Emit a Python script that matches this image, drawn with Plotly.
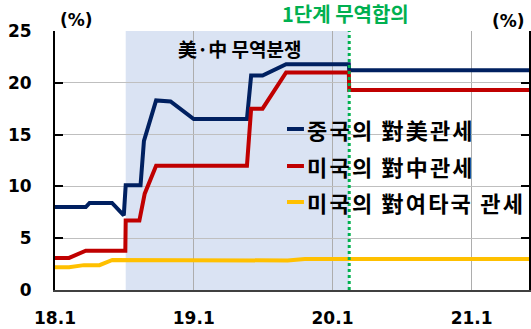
import plotly.graph_objects as go

# ---- data -------------------------------------------------------------
# China's tariffs on US goods (%)
cn_dates = ["2018-01-01", "2018-03-23", "2018-04-02", "2018-05-31", "2018-07-01",
            "2018-07-06", "2018-08-14", "2018-08-23", "2018-09-24", "2018-11-01",
            "2019-01-01", "2019-05-21", "2019-06-01", "2019-07-01", "2019-09-01",
            "2020-02-13", "2020-02-14", "2021-06-01"]
cn_on_us = [8.0, 8.0, 8.4, 8.4, 7.2,
            10.1, 10.1, 14.4, 18.3, 18.2,
            16.5, 16.5, 20.7, 20.7, 21.8,
            21.8, 21.2, 21.2]

# US tariffs on Chinese goods (%)
us_dates = ["2018-01-01", "2018-02-07", "2018-03-23", "2018-07-05", "2018-07-06",
            "2018-08-11", "2018-08-25", "2018-09-24", "2019-05-21", "2019-06-01",
            "2019-07-01", "2019-09-01", "2020-02-13", "2020-02-14", "2021-06-01"]
us_on_cn = [3.1, 3.1, 3.8, 3.8, 6.7,
            6.7, 9.3, 12.0, 12.0, 17.5,
            17.5, 21.0, 21.0, 19.3, 19.3]

# US tariffs on the rest of the world (%)
row_dates = ["2018-01-01", "2018-02-07", "2018-03-18", "2018-04-28", "2018-06-01",
             "2019-05-21", "2019-06-01", "2019-09-05", "2019-10-20", "2020-12-20",
             "2021-01-25", "2021-03-05", "2021-06-01"]
us_on_row = [2.2, 2.2, 2.4, 2.4, 2.9,
             2.9, 2.85, 2.85, 3.0, 3.0,
             3.05, 3.0, 3.0]

series_names = ["중국의 對美관세", "미국의 對中관세", "미국의 對여타국 관세"]
series_colors = ["#002060", "#C00000", "#FFC000"]

tick_dates = ["2018-01-01", "2019-01-01", "2020-01-01", "2021-01-01"]
tick_labels = ["18.1", "19.1", "20.1", "21.1"]

trade_war_start = "2018-07-06"
phase_one_deal = "2020-02-14"
x_range = ["2018-01-01", "2021-06-01"]

# ---- layout geometry (pixels) ----------------------------------------
W_PX, H_PX = 531, 329
M_L, M_R, M_T, M_B = 55, 0, 31, 39
PW, PH = W_PX - M_L - M_R, H_PX - M_T - M_B


def fx(px):
    return (px - M_L) / PW


def fy(py):
    return 1 - (py - M_T) / PH


NUM_FONT = dict(family="DejaVu Sans", size=17, color="black", weight="bold")
KR_FONT = "Noto Sans CJK KR"

fig = go.Figure()
for d, v, name, col in zip([cn_dates, us_dates, row_dates],
                           [cn_on_us, us_on_cn, us_on_row],
                           series_names, series_colors):
    fig.add_trace(go.Scatter(x=d, y=v, name=name, mode="lines",
                             line=dict(color=col, width=4),
                             showlegend=False))

shapes = [
    # trade-war period band
    dict(type="rect", xref="x", yref="paper", x0=trade_war_start, x1=phase_one_deal,
         y0=0, y1=1, fillcolor="#DAE3F3", line=dict(width=0), layer="between"),
    # phase-one deal marker
    dict(type="line", xref="x", yref="paper", x0=phase_one_deal, x1=phase_one_deal,
         y0=0, y1=1, line=dict(color="#00B050", width=3, dash="dot"), layer="above"),
]

annotations = [
    dict(text="(%)", x=fx(58), y=fy(20), xref="paper", yref="paper",
         xanchor="left", yanchor="middle", showarrow=False, font=NUM_FONT),
    dict(text="(%)", x=fx(529), y=fy(21), xref="paper", yref="paper",
         xanchor="right", yanchor="middle", showarrow=False, font=NUM_FONT),
    dict(text="1단계 무역합의", x=fx(347), y=fy(14), xref="paper", yref="paper",
         xanchor="center", yanchor="middle", showarrow=False,
         font=dict(family=KR_FONT, size=20, color="#00B050", weight="bold")),
    dict(text="美·中 무역분쟁", x=fx(240), y=fy(48), xref="paper", yref="paper",
         xanchor="center", yanchor="middle", showarrow=False,
         font=dict(family=KR_FONT, size=19, color="black", weight="bold")),
]

# custom legend: short colour bar followed by the series name
legend_rows = [129, 166, 202]
for name, col, row in zip(series_names, series_colors, legend_rows):
    shapes.append(dict(type="line", xref="paper", yref="paper",
                       x0=fx(288), x1=fx(305), y0=fy(row), y1=fy(row),
                       line=dict(color=col, width=4), layer="above"))
    annotations.append(dict(text=f'<span style="letter-spacing:2.2px">{name}</span>',
                            x=fx(306), y=fy(row), xref="paper", yref="paper",
                            xanchor="left", yanchor="middle", showarrow=False,
                            font=dict(family=KR_FONT, size=22, color="black",
                                      weight="bold")))

fig.update_layout(
    width=W_PX, height=H_PX,
    margin=dict(l=M_L, r=M_R, t=M_T, b=M_B, pad=0),
    paper_bgcolor="white", plot_bgcolor="white",
    shapes=shapes, annotations=annotations,
    xaxis=dict(type="date", range=x_range, tickvals=tick_dates, ticktext=tick_labels,
               showgrid=True, gridcolor="#ADADAD", gridwidth=1,
               showline=True, linecolor="#404040", linewidth=2,
               ticks="", tickfont=NUM_FONT, ticklabelstandoff=12, zeroline=False),
    yaxis=dict(range=[0, 25], tickvals=[0, 5, 10, 15, 20, 25],
               showgrid=True, gridcolor="#BFBFBF", gridwidth=1,
               showline=True, linecolor="black", linewidth=2, mirror="ticks",
               ticks="inside", ticklen=8, tickwidth=1.5, tickcolor="black",
               tickfont=NUM_FONT, ticklabelstandoff=18, zeroline=False),
)

fig.write_html("out.html")
